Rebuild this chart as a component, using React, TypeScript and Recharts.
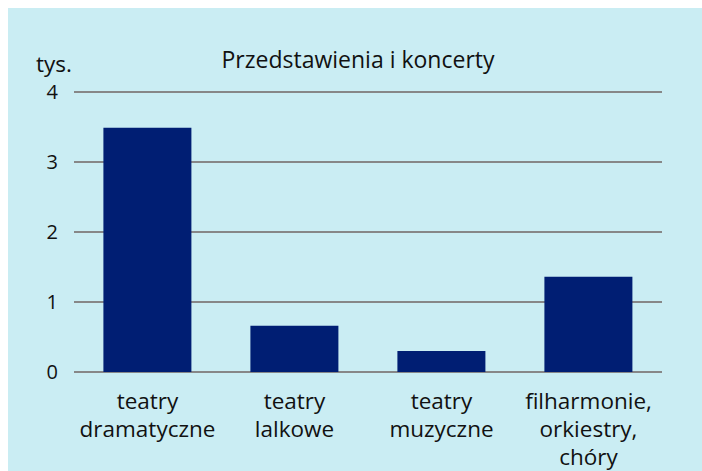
import React from "react";
import { BarChart, Bar, XAxis, YAxis, CartesianGrid } from "recharts";

const categories = [
  "teatry\ndramatyczne",
  "teatry\nlalkowe",
  "teatry\nmuzyczne",
  "filharmonie,\norkiestry,\nchóry",
];
const values = [3.49, 0.66, 0.3, 1.36];
const yTicks = [0, 1, 2, 3, 4];
const title = "Przedstawienia i koncerty";
const unit = "tys.";

const data = categories.map((c, i) => ({ name: c, value: values[i] }));

const FONT = "'Open Sans', sans-serif";

const CatTick = (props: any) => {
  const { x, y, payload } = props;
  const lines = String(payload.value).split("\n");
  return (
    <text x={x} y={y} textAnchor="middle" fontFamily={FONT} fontSize={22.5} fill="#111">
      {lines.map((l: string, i: number) => (
        <tspan key={i} x={x} dy={i === 0 ? 29 : 28}>
          {l}
        </tspan>
      ))}
    </text>
  );
};

export default function App() {
  return (
    <div
      style={{
        position: "fixed",
        left: 8,
        top: 8,
        right: 0,
        bottom: 0,
        background: "#caedf3",
        overflow: "hidden",
      }}
    >
      <div
        style={{
          position: "absolute",
          left: 0,
          width: 700,
          top: 33,
          textAlign: "center",
          fontFamily: FONT,
          fontSize: 23,
          color: "#111",
          lineHeight: "36px",
          whiteSpace: "nowrap",
        }}
      >
        {title}
      </div>
      <div
        style={{
          position: "absolute",
          left: 28,
          top: 38,
          fontFamily: FONT,
          fontSize: 22.5,
          color: "#111",
          lineHeight: "36px",
        }}
      >
        {unit}
      </div>
      <BarChart
        width={694}
        height={463}
        data={data}
        margin={{ top: 84, right: 40, bottom: 0, left: 0 }}
        barCategoryGap="20%"
        style={{ overflow: "visible" }}
      >
        <CartesianGrid horizontal vertical={false} stroke="#878787" strokeWidth={2} />
        <XAxis
          dataKey="name"
          axisLine={false}
          tickLine={false}
          tick={<CatTick />}
          height={99}
          interval={0}
        />
        <YAxis
          domain={[0, 4]}
          ticks={yTicks}
          axisLine={false}
          tickLine={false}
          tickSize={0}
          tickMargin={16}
          width={66}
          tick={{ fontFamily: FONT, fontSize: 20, fill: "#111" }}
        />
        <Bar dataKey="value" fill="#001e73" isAnimationActive={false} />
      </BarChart>
    </div>
  );
}
